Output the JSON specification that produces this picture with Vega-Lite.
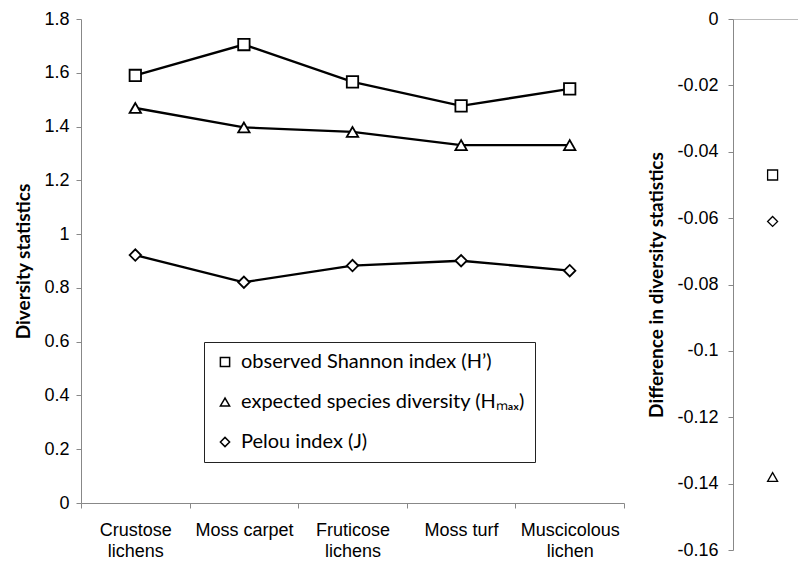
{
  "$schema": "https://vega.github.io/schema/vega-lite/v6.json",
  "background": "white",
  "padding": {"left": 14, "top": 10, "right": 0, "bottom": 0},
  "config": {
    "view": {"stroke": null},
    "axis": {
      "labelFont": "Liberation Sans",
      "labelFontSize": 18,
      "labelColor": "black",
      "titleFont": "Lato",
      "titleFontWeight": "bold",
      "titleFontSize": 19,
      "titleColor": "black",
      "domainColor": "#888888",
      "tickColor": "#888888",
      "grid": false,
      "tickSize": 5
    }
  },
  "datasets": {
    "main": [
      {"habitat": "Crustose lichens", "series": "observed Shannon index (H’)", "value": 1.59},
      {"habitat": "Moss carpet", "series": "observed Shannon index (H’)", "value": 1.705},
      {"habitat": "Fruticose lichens", "series": "observed Shannon index (H’)", "value": 1.566},
      {"habitat": "Moss turf", "series": "observed Shannon index (H’)", "value": 1.477},
      {"habitat": "Muscicolous lichen", "series": "observed Shannon index (H’)", "value": 1.54},
      {"habitat": "Crustose lichens", "series": "expected species diversity (Hₘₐₓ)", "value": 1.469},
      {"habitat": "Moss carpet", "series": "expected species diversity (Hₘₐₓ)", "value": 1.397},
      {"habitat": "Fruticose lichens", "series": "expected species diversity (Hₘₐₓ)", "value": 1.38},
      {"habitat": "Moss turf", "series": "expected species diversity (Hₘₐₓ)", "value": 1.331},
      {"habitat": "Muscicolous lichen", "series": "expected species diversity (Hₘₐₓ)", "value": 1.331},
      {"habitat": "Crustose lichens", "series": "Pelou index (J)", "value": 0.922},
      {"habitat": "Moss carpet", "series": "Pelou index (J)", "value": 0.821},
      {"habitat": "Fruticose lichens", "series": "Pelou index (J)", "value": 0.883},
      {"habitat": "Moss turf", "series": "Pelou index (J)", "value": 0.901},
      {"habitat": "Muscicolous lichen", "series": "Pelou index (J)", "value": 0.864}
    ],
    "diff": [
      {"group": "difference", "series": "observed Shannon index (H’)", "diff": -0.047},
      {"group": "difference", "series": "expected species diversity (Hₘₐₓ)", "diff": -0.138},
      {"group": "difference", "series": "Pelou index (J)", "diff": -0.061}
    ]
  },
  "spacing": 22,
  "hconcat": [
    {
      "width": 543,
      "height": 484,
      "data": {"name": "main"},
      "encoding": {
        "x": {
          "field": "habitat",
          "type": "nominal",
          "sort": ["Crustose lichens", "Moss carpet", "Fruticose lichens", "Moss turf", "Muscicolous lichen"],
          "scale": {"paddingInner": 0, "paddingOuter": 0},
          "axis": {
            "title": null,
            "labelAngle": 0,
            "tickBand": "extent",
            "labelPadding": 13,
            "labelLineHeight": 21,
            "labelLimit": 200,
            "labelExpr": "indexof(datum.label, 'lichen') >= 0 ? split(datum.label, ' ') : datum.label"
          }
        },
        "y": {
          "field": "value",
          "type": "quantitative",
          "scale": {"domain": [0, 1.8], "nice": false, "zero": true},
          "axis": {
            "title": "Diversity statistics",
            "values": [0, 0.2, 0.4, 0.6, 0.8, 1, 1.2, 1.4, 1.6, 1.8],
            "format": "~g",
            "labelPadding": 7,
            "titlePadding": 10
          }
        }
      },
      "layer": [
        {
          "mark": {"type": "line", "color": "black", "strokeWidth": 2.3},
          "encoding": {"detail": {"field": "series", "type": "nominal"}}
        },
        {
          "mark": {"type": "point", "filled": true, "fill": "white", "stroke": "black", "strokeWidth": 1.8, "size": 130, "opacity": 1},
          "encoding": {
            "shape": {
              "field": "series",
              "type": "nominal",
              "scale": {
                "domain": ["observed Shannon index (H’)", "expected species diversity (Hₘₐₓ)", "Pelou index (J)"],
                "range": ["square", "triangle-up", "diamond"]
              },
              "legend": {
                "orient": "none",
                "legendX": 123,
                "legendY": 323,
                "title": null,
                "strokeColor": "#222222",
                "fillColor": "white",
                "padding": 10,
                "symbolOffset": 1,
                "labelFont": "Lato",
                "labelFontSize": 20,
                "labelColor": "black",
                "labelOffset": 6,
                "labelLimit": 400,
                "labelExpr": "datum.label + '\u00a0\u00a0\u00a0'",
                "rowPadding": 20,
                "symbolSize": 85,
                "encode": {
                  "symbols": {
                    "update": {
                      "fill": {"value": "white"},
                      "stroke": {"value": "black"},
                      "strokeWidth": {"value": 1.3},
                      "opacity": {"value": 1},
                      "fillOpacity": {"value": 1},
                      "strokeOpacity": {"value": 1}
                    }
                  },
                  "legend": {
                    "update": {
                      "strokeWidth": {"value": 1.6}
                    }
                  }
                }
              }
            }
          }
        }
      ]
    },
    {
      "width": 66,
      "height": 531,
      "data": {"name": "diff"},
      "mark": {"type": "point", "filled": true, "fill": "white", "stroke": "black", "strokeWidth": 1.3, "size": 100, "opacity": 1},
      "encoding": {
        "x": {
          "field": "group",
          "type": "nominal",
          "scale": {"type": "point", "padding": 0.5, "align": 0.6},
          "axis": {"orient": "top", "title": null, "labels": false, "ticks": false, "domainColor": "#bbbbbb"}
        },
        "y": {
          "field": "diff",
          "type": "quantitative",
          "scale": {"domain": [-0.16, 0], "nice": false, "zero": false},
          "axis": {
            "title": "Difference in diversity statistics",
            "values": [0, -0.02, -0.04, -0.06, -0.08, -0.1, -0.12, -0.14, -0.16],
            "format": "~g",
            "labelExpr": "replace(datum.label, '−', '-')",
            "labelPadding": 10,
            "titlePadding": 10
          }
        },
        "shape": {
          "field": "series",
          "type": "nominal",
          "scale": {
            "domain": ["observed Shannon index (H’)", "expected species diversity (Hₘₐₓ)", "Pelou index (J)"],
            "range": ["square", "triangle-up", "diamond"]
          },
          "legend": null
        }
      }
    }
  ],
  "resolve": {"scale": {"shape": "independent"}, "legend": {"shape": "independent"}}
}
